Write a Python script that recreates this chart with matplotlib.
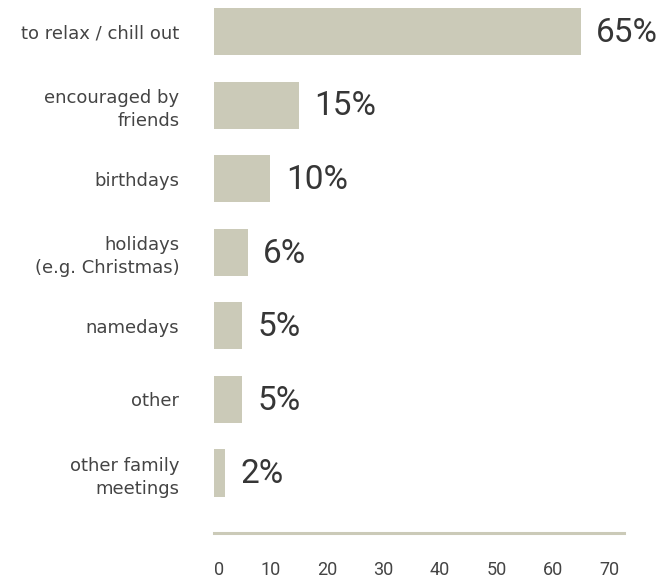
import numpy as np
import matplotlib.pyplot as plt

categories = ['to relax / chill out', 'encouraged by\nfriends', 'birthdays',
              'holidays\n(e.g. Christmas)', 'namedays', 'other',
              'other family\nmeetings']
values = [65, 15, 10, 6, 5, 5, 2]
ticks = [0, 10, 20, 30, 40, 50, 60, 70]

bar_color = '#cbcab8'
text_color = '#363636'

plt.rcParams['font.family'] = ['Roboto', 'DejaVu Sans']

fig = plt.figure(figsize=(6.66, 5.8), dpi=100)
ax = fig.add_axes([214 / 666, 1 - 533 / 580, 410 / 666, 533 / 580])

y = np.arange(len(categories))
ax.barh(y, values, height=0.64, color=bar_color)

for yi, v in zip(y, values):
    ax.annotate(f'{v}%', (v, yi), xytext=(11, -1), textcoords='offset points',
                va='center', ha='left', fontsize=24, color=text_color)

ax.set_xlim(0, 72.6)
ax.set_ylim(6.815, -0.428)
ax.set_xticks(ticks)
ax.set_xticklabels([str(t) for t in ticks])
ax.set_yticks(y)
ax.set_yticklabels(categories, linespacing=1.35, family=['DejaVu Sans'])

ax.tick_params(axis='x', length=0, pad=20, labelsize=13, labelcolor='#444444')
ax.tick_params(axis='y', length=0, pad=25, labelsize=13, labelcolor='#444444')
ax.get_xticklabels()[0].set_ha('left')

for side in ['top', 'right', 'left']:
    ax.spines[side].set_visible(False)
ax.spines['bottom'].set_color(bar_color)
ax.spines['bottom'].set_linewidth(2.2)

fig.savefig('out.png', dpi=100)
